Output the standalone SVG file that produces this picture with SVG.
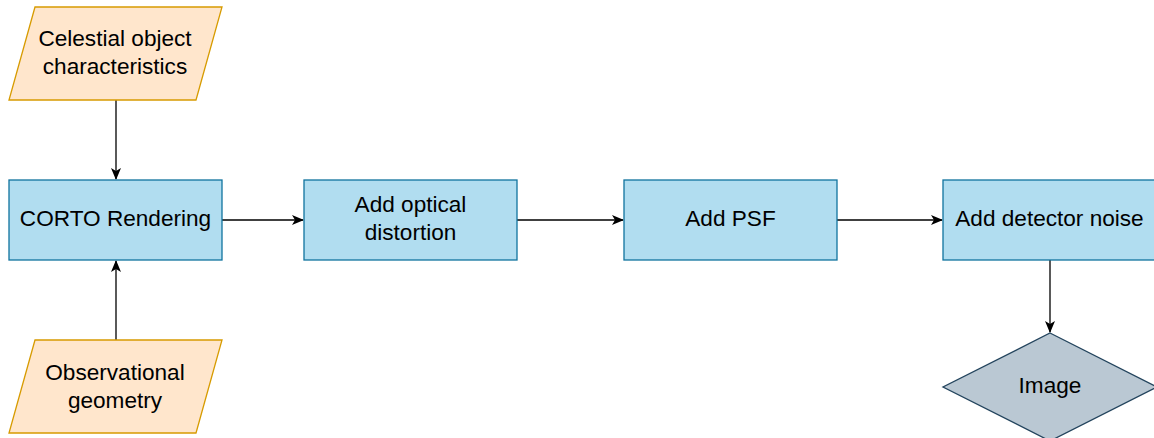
<svg xmlns="http://www.w3.org/2000/svg" width="1154" height="438" viewBox="0 0 1154 438">
<defs>
<style>
.io{fill:#ffe6cc;stroke:#d79b00;stroke-width:1.3}
.proc{fill:#b1ddf0;stroke:#10739e;stroke-width:1.3}
.dec{fill:#bac8d3;stroke:#23445d;stroke-width:1.3}
.lbl{font-family:"Liberation Sans",Arial,sans-serif;font-size:22.6px;fill:#000;text-anchor:middle}
.edge{fill:none;stroke:#000;stroke-width:1.3}
</style>
<marker id="arr" viewBox="0 0 12 10" refX="11" refY="5" markerWidth="12" markerHeight="10" markerUnits="userSpaceOnUse" orient="auto">
<path d="M0,0 L12,5 L0,10 L3,5 Z" fill="#000"/>
</marker>
</defs>
<rect width="1154" height="438" fill="#fff"/>
<g id="connectors">
<path class="edge" d="M116,100 V179" marker-end="url(#arr)"/>
<path class="edge" d="M116,340 V261" marker-end="url(#arr)"/>
<path class="edge" d="M222,220 H303" marker-end="url(#arr)"/>
<path class="edge" d="M517,220 H623" marker-end="url(#arr)"/>
<path class="edge" d="M837,220 H942" marker-end="url(#arr)"/>
<path class="edge" d="M1050,260 V332" marker-end="url(#arr)"/>
</g>
<g id="celestial">
<polygon class="io" points="35,7 222,7 196,100 9,100"/>
<text class="lbl" x="115" y="46">Celestial object</text>
<text class="lbl" x="115" y="74">characteristics</text>
</g>
<g id="geometry">
<polygon class="io" points="35,340 222,340 196,433 9,433"/>
<text class="lbl" x="115" y="380">Observational</text>
<text class="lbl" x="115" y="408">geometry</text>
</g>
<g id="corto">
<rect class="proc" x="9" y="180" width="213" height="80"/>
<text class="lbl" x="115.5" y="226">CORTO Rendering</text>
</g>
<g id="optical">
<rect class="proc" x="304" y="180" width="213" height="80"/>
<text class="lbl" x="410.5" y="212">Add optical</text>
<text class="lbl" x="410.5" y="240">distortion</text>
</g>
<g id="psf">
<rect class="proc" x="624" y="180" width="213" height="80"/>
<text class="lbl" x="730.5" y="226">Add PSF</text>
</g>
<g id="noise">
<rect class="proc" x="943" y="180" width="213" height="80"/>
<text class="lbl" x="1049.5" y="226">Add detector noise</text>
</g>
<g id="image">
<polygon class="dec" points="1050,333 1157,387 1050,441 943,387"/>
<text class="lbl" x="1050" y="393">Image</text>
</g>
</svg>
